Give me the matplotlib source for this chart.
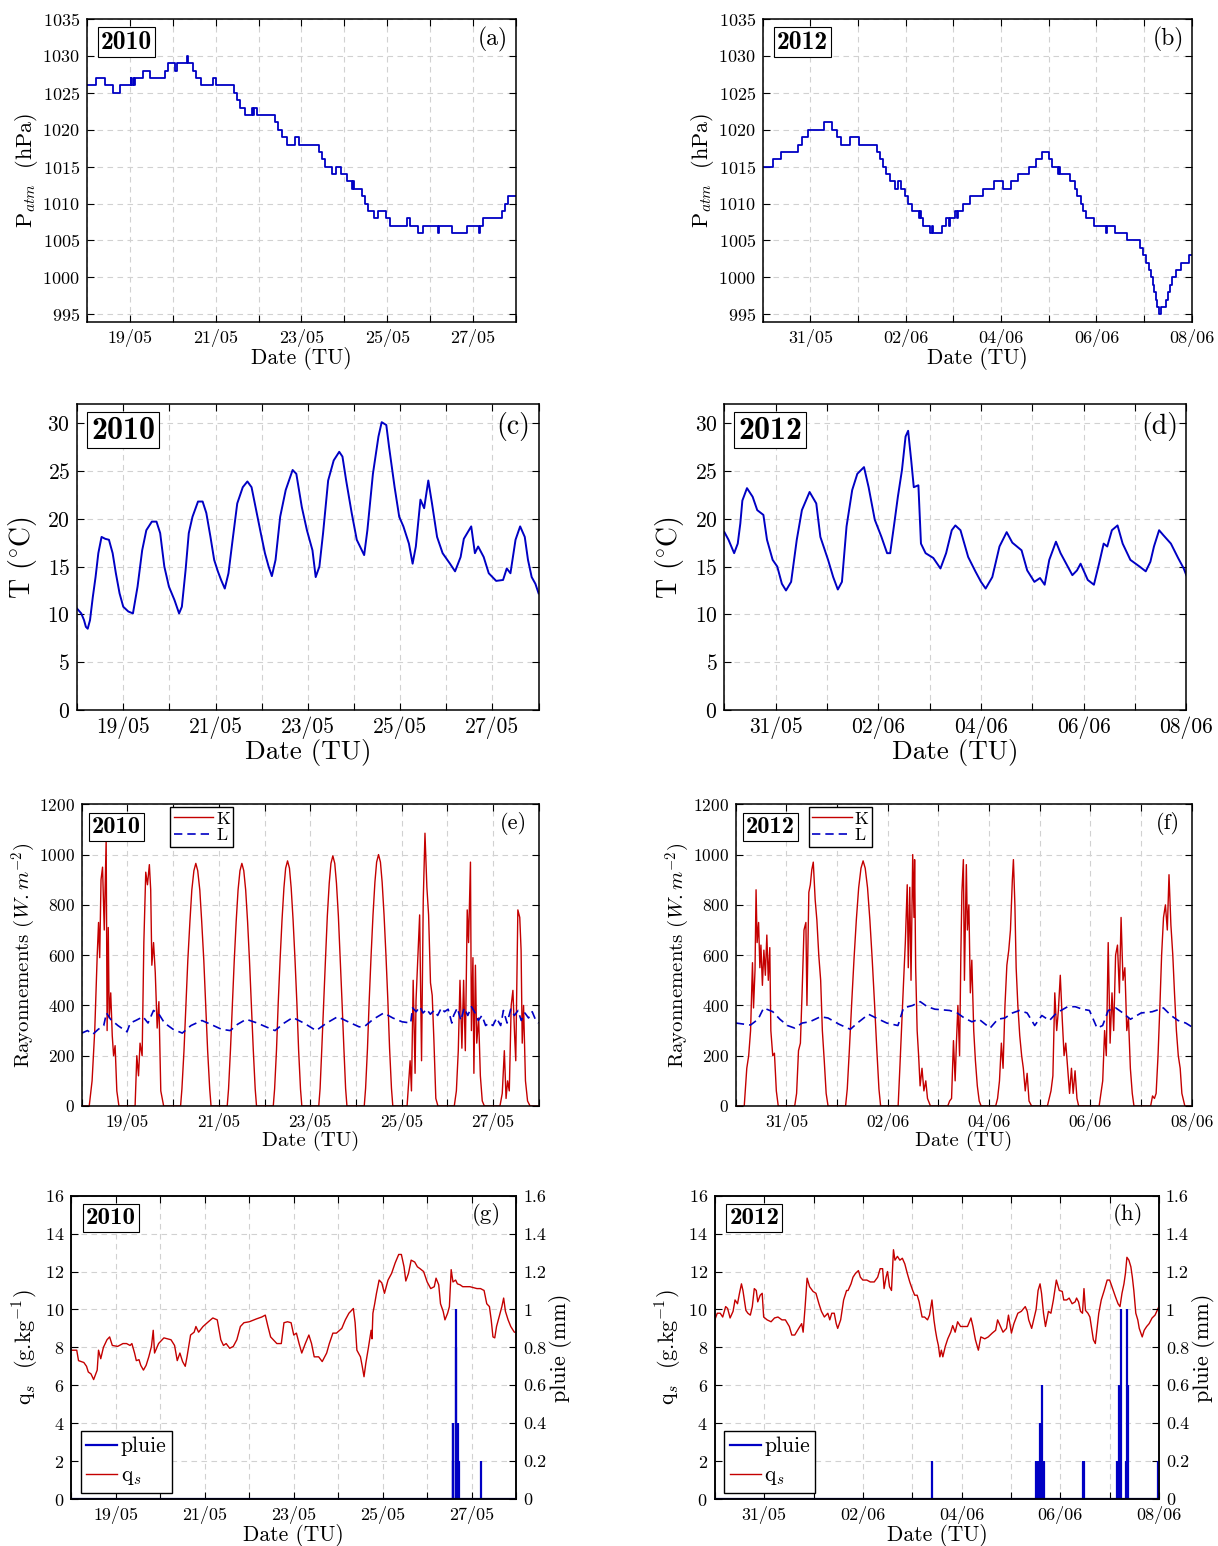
import matplotlib
matplotlib.use('Agg')
import matplotlib.pyplot as plt
import matplotlib.dates as mdates
from matplotlib.ticker import FuncFormatter, MultipleLocator
from matplotlib.lines import Line2D
from datetime import datetime
import numpy as np

plt.rcParams['font.family'] = ['cmr10', 'DejaVu Serif']
plt.rcParams['mathtext.fontset'] = 'cm'
plt.rcParams['axes.formatter.use_mathtext'] = True
plt.rcParams['axes.unicode_minus'] = False

START10 = datetime(2010, 5, 18)
START12 = datetime(2012, 5, 30)
NDAYS10 = 10
NDAYS12 = 9
LABEL_DAYS10 = [19, 21, 23, 25, 27]
LABEL_DAYS12 = [31, 2, 4, 6, 8]

# ---------------- (a) pressure 2010 (step changes, days, hPa) -------------
p10_t = [0, 0.22, 0.42, 0.6, 0.78, 1.02, 1.04, 1.08, 1.1, 1.13, 1.31, 1.47, 1.82, 1.89, 2.05, 2.11,
         2.33, 2.35, 2.47, 2.54, 2.66, 2.95, 3.0, 3.43, 3.49, 3.57, 3.68, 3.85, 3.88, 3.9, 3.97,
         4.38, 4.45, 4.55, 4.66, 4.84, 4.95, 5.42, 5.49, 5.55, 5.7, 5.8, 5.92, 6.05, 6.18, 6.2,
         6.22, 6.42, 6.48, 6.55, 6.69, 6.78, 6.96, 7.07, 7.46, 7.54, 7.71, 7.83, 8.19, 8.21, 8.5,
         8.85, 9.14, 9.16, 9.23, 9.68, 9.75, 9.81, 10.0]
p10_v = [1026, 1027, 1026, 1025, 1026, 1027, 1026, 1027, 1026, 1027, 1028, 1027, 1028, 1029, 1028, 1029,
         1030, 1029, 1028, 1027, 1026, 1027, 1026, 1025, 1024, 1023, 1022, 1023, 1022, 1023, 1022,
         1021, 1020, 1019, 1018, 1019, 1018, 1017, 1016, 1015, 1014, 1015, 1014, 1013, 1012, 1013,
         1012, 1011, 1010, 1009, 1008, 1009, 1008, 1007, 1008, 1007, 1006, 1007, 1006, 1007, 1006,
         1007, 1006, 1007, 1008, 1009, 1010, 1011, 1011]

# ---------------- (b) pressure 2012 ----------------
p12_t = [0, 0.21, 0.38, 0.75, 0.83, 0.94, 1.28, 1.46, 1.56, 1.64, 1.83, 2.03, 2.4, 2.47, 2.53, 2.59,
         2.68, 2.78, 2.84, 2.9, 2.99, 3.05, 3.13, 3.28, 3.3, 3.32, 3.36, 3.5, 3.55, 3.57, 3.77, 3.84,
         3.9, 3.92, 4.04, 4.08, 4.1, 4.2, 4.35, 4.62, 4.86, 5.05, 5.2, 5.35, 5.58, 5.74, 5.86, 6.0,
         6.07, 6.2, 6.22, 6.24, 6.44, 6.54, 6.6, 6.67, 6.72, 6.79, 6.95, 7.19, 7.23, 7.38, 7.65, 7.92,
         7.97, 8.04, 8.1, 8.14, 8.18, 8.21, 8.24, 8.27, 8.31, 8.35, 8.46, 8.5, 8.54, 8.59, 8.67, 8.78,
         8.95, 9.0]
p12_v = [1015, 1016, 1017, 1018, 1019, 1020, 1021, 1020, 1019, 1018, 1019, 1018, 1017, 1016, 1015, 1014,
         1013, 1012, 1013, 1012, 1011, 1010, 1009, 1008, 1009, 1008, 1007, 1006, 1007, 1006, 1007, 1008,
         1007, 1008, 1009, 1008, 1009, 1010, 1011, 1012, 1013, 1012, 1013, 1014, 1015, 1016, 1017, 1016,
         1015, 1014, 1015, 1014, 1013, 1012, 1011, 1010, 1009, 1008, 1007, 1006, 1007, 1006, 1005, 1004,
         1003, 1002, 1001, 1000, 999, 998, 997, 996, 995, 996, 997, 998, 999, 1000, 1001, 1002,
         1003, 1003]

# ---------------- (c) temperature 2010 (days, degC) ----------------
t10_t = [0, 0.09, 0.15, 0.19, 0.23, 0.28, 0.34, 0.4, 0.46, 0.53,
         0.61, 0.69, 0.77, 0.84, 0.92, 1.0, 1.11, 1.21, 1.31, 1.41,
         1.5, 1.62, 1.72, 1.8, 1.89, 1.99, 2.11, 2.21, 2.27, 2.35,
         2.42, 2.5, 2.62, 2.72, 2.8, 2.89, 2.97, 3.05, 3.12, 3.2,
         3.28, 3.37, 3.47, 3.59, 3.69, 3.78, 3.88, 3.98, 4.07, 4.15,
         4.22, 4.3, 4.4, 4.52, 4.67, 4.75, 4.87, 4.98, 5.1, 5.17,
         5.25, 5.33, 5.44, 5.56, 5.68, 5.75, 5.83, 5.95, 6.06, 6.18,
         6.22, 6.29, 6.41, 6.53, 6.6, 6.7, 6.76, 6.88, 6.98, 7.07,
         7.19, 7.27, 7.34, 7.44, 7.52, 7.61, 7.69, 7.8, 7.92, 8.08,
         8.19, 8.31, 8.38, 8.54, 8.62, 8.69, 8.81, 8.92, 9.08, 9.23,
         9.31, 9.39, 9.5, 9.6, 9.7, 9.77, 9.85, 9.93, 10.0]
t10_v = [10.6, 10.1, 9.4, 8.7, 8.5, 9.4, 11.8, 13.9, 16.4, 18.1,
         17.9, 17.8, 16.4, 14.3, 12.2, 10.8, 10.3, 10.1, 12.9, 16.7,
         18.8, 19.7, 19.7, 18.5, 15.0, 12.9, 11.5, 10.1, 10.8, 14.6,
         18.5, 20.2, 21.8, 21.8, 20.6, 18.1, 15.7, 14.5, 13.6, 12.7,
         14.3, 17.8, 21.6, 23.3, 23.9, 23.3, 20.9, 18.5, 16.4, 15.0,
         14.0, 15.7, 20.2, 23.0, 25.1, 24.7, 21.2, 18.8, 16.7, 13.9,
         15.0, 18.5, 24.0, 26.1, 27.0, 26.5, 24.0, 20.6, 17.8, 16.6,
         16.2, 18.8, 24.7, 28.6, 30.1, 29.8, 27.5, 23.3, 20.2, 19.2,
         17.4, 15.3, 17.1, 22.0, 21.1, 24.0, 21.6, 18.1, 16.4, 15.3,
         14.5, 16.0, 17.9, 19.2, 16.4, 17.1, 16.0, 14.3, 13.5, 13.6,
         14.8, 14.3, 17.8, 19.2, 18.1, 15.7, 13.9, 13.2, 12.2]

# ---------------- (d) temperature 2012 ----------------
t12_t = [0, 0.08, 0.19, 0.26, 0.31, 0.35, 0.44, 0.55, 0.64, 0.76,
         0.83, 0.94, 1.03, 1.12, 1.2, 1.3, 1.41, 1.51, 1.66, 1.79,
         1.87, 2.02, 2.12, 2.21, 2.29, 2.38, 2.49, 2.59, 2.72, 2.81,
         2.93, 3.06, 3.17, 3.23, 3.31, 3.38, 3.46, 3.53, 3.58, 3.64,
         3.69, 3.78, 3.83, 3.92, 4.07, 4.21, 4.32, 4.43, 4.5, 4.6,
         4.75, 4.89, 5.0, 5.09, 5.22, 5.36, 5.5, 5.61, 5.79, 5.9,
         6.04, 6.15, 6.24, 6.33, 6.46, 6.55, 6.69, 6.78, 6.87, 6.94,
         7.08, 7.2, 7.3, 7.39, 7.46, 7.55, 7.66, 7.76, 7.91, 8.09,
         8.21, 8.3, 8.37, 8.47, 8.55, 8.7, 8.84, 8.95, 9.0]
t12_v = [18.6, 17.8, 16.4, 17.4, 19.5, 21.9, 23.2, 22.3, 20.9, 20.4,
         17.8, 15.7, 15.0, 13.2, 12.5, 13.4, 17.8, 20.9, 22.8, 21.6,
         18.1, 15.7, 13.9, 12.6, 13.4, 19.2, 23.0, 24.7, 25.4, 23.3,
         19.9, 18.1, 16.4, 16.4, 19.5, 22.3, 25.1, 28.6, 29.2, 26.1,
         23.3, 23.5, 17.4, 16.4, 15.9, 14.8, 16.4, 18.8, 19.3, 18.8,
         16.0, 14.5, 13.4, 12.7, 13.9, 17.1, 18.6, 17.5, 16.7, 14.6,
         13.4, 13.8, 13.1, 15.7, 17.6, 16.4, 15.0, 14.1, 14.6, 15.3,
         13.6, 13.1, 15.3, 17.4, 17.1, 18.8, 19.3, 17.4, 15.7, 15.0,
         14.5, 15.5, 17.1, 18.8, 18.3, 17.4, 15.9, 14.8, 14.1]

# ---------------- (e) radiation 2010: K (hours, W/m2), L (days, W/m2) -------------
k10_h = [0,
         3.9, 5.4, 6.8, 8.1, 8.8, 9.4, 10.1, 10.9, 11.8, 12.8, 13.3, 13.9, 14.4, 15.2, 16.0, 16.7, 17.5, 18.4, 19.5,
         28.0, 28.9, 29.8, 30.6, 31.7, 32.6, 33.6, 34.5, 35.5, 36.2, 36.8, 37.7, 38.6, 39.6, 40.5, 41.5, 43.0,
         51.9, 52.6, 53.7, 54.7, 55.7, 56.8, 57.8, 58.9, 59.9, 60.9, 62.0, 63.0, 64.1, 65.1, 66.1, 67.2, 67.9,
         76.4, 77.1, 78.1, 79.1, 80.1, 81.1, 82.1, 83.1, 84.1, 85.1, 86.1, 87.1, 88.1, 89.1, 90.1, 91.1, 91.8,
         100.6, 101.3, 102.3, 103.2, 104.2, 105.2, 106.2, 107.1, 108.1, 109.1, 110.0, 111.0, 112.0, 113.0, 113.9, 114.9, 115.6,
         124.5, 125.2, 126.1, 127.1, 128.1, 129.0, 130.0, 130.9, 131.9, 132.9, 133.8, 134.8, 135.7, 136.7, 137.7, 138.6, 139.3,
         148.4, 149.1, 150.1, 151.0, 152.0, 153.0, 154.0, 154.9, 155.9, 156.9, 157.8, 158.8, 159.8, 160.8, 161.7, 162.7, 163.4,
         170.9, 172.5, 173.2, 174.1, 175.1, 175.6, 176.6, 177.5, 178.5, 179.4, 180.3, 181.3, 182.2, 183.2, 184.1, 185.0, 186.0, 187.1,
         195.7, 196.8, 197.8, 198.7, 199.7, 200.6, 201.5, 202.5, 203.2, 204.2, 204.7, 205.5, 206.0, 206.8, 207.5, 208.5, 209.4, 210.4, 211.5,
         219.7, 220.9, 222.0, 222.9, 223.7, 224.6, 225.6, 226.5, 227.4, 228.0, 229.1, 230.1, 230.8, 231.4, 232.1, 233.1, 234.2, 235.5,
         240.0]
k10_v = [0,
         0, 100, 300, 600, 730, 590, 900, 950, 700, 1060, 300, 710, 350, 450, 280, 200, 240, 60, 0,
         0, 200, 120, 250, 200, 650, 930, 880, 960, 860, 560, 650, 530, 310, 415, 60, 0,
         0, 68, 222, 405, 579, 733, 859, 936, 965, 936, 859, 733, 579, 405, 222, 68, 0,
         0, 68, 222, 405, 579, 733, 859, 936, 965, 936, 859, 733, 579, 405, 222, 68, 0,
         0, 68, 224, 410, 585, 741, 868, 946, 975, 946, 868, 741, 585, 410, 224, 68, 0,
         0, 70, 229, 418, 597, 756, 886, 965, 995, 965, 886, 756, 597, 418, 229, 70, 0,
         0, 70, 230, 420, 600, 760, 890, 970, 1000, 970, 890, 760, 600, 420, 230, 70, 0,
         0, 180, 60, 500, 130, 420, 600, 760, 180, 820, 1085, 870, 760, 490, 440, 260, 30, 0,
         0, 60, 220, 500, 230, 500, 220, 780, 650, 970, 300, 590, 130, 560, 250, 350, 120, 20, 0,
         0, 50, 220, 30, 100, 60, 400, 460, 280, 180, 780, 750, 620, 250, 400, 100, 20, 0,
         0]
l10_t = [0, 0.125, 0.24, 0.36, 0.48, 0.54, 0.63, 0.79, 0.99, 1.06,
         1.18, 1.34, 1.45, 1.57, 1.69, 1.81, 2.0, 2.2, 2.39, 2.63,
         2.82, 3.06, 3.25, 3.41, 3.6, 3.84, 4.03, 4.23, 4.43, 4.62,
         4.86, 5.13, 5.36, 5.6, 5.83, 6.07, 6.18, 6.38, 6.61, 6.81,
         7.01, 7.2, 7.24, 7.32, 7.4, 7.47, 7.55, 7.63, 7.71, 7.79,
         7.87, 7.94, 8.02, 8.1, 8.14, 8.22, 8.3, 8.37, 8.45, 8.53,
         8.61, 8.68, 8.76, 8.84, 8.92, 9.0, 9.08, 9.17, 9.23, 9.31,
         9.39, 9.47, 9.55, 9.62, 9.7, 9.78, 9.86, 9.94, 10.0]
l10_v = [290, 300, 285, 305, 320, 370, 345, 320, 295, 330,
         340, 355, 330, 380, 365, 330, 305, 290, 320, 340,
         325, 305, 300, 325, 345, 330, 315, 300, 330, 352,
         330, 300, 330, 355, 335, 315, 315, 345, 370, 350,
         335, 330, 390, 375, 395, 370, 385, 365, 380, 360,
         390, 375, 385, 330, 360, 390, 340, 390, 360, 395,
         370, 340, 360, 320, 330, 320, 350, 320, 380, 330,
         385, 360, 380, 340, 370, 350, 375, 340, 330]

# ---------------- (f) radiation 2012 ----------------
k12_h = [0,
         4.0, 5.2, 6.1, 7.0, 7.9, 8.4, 9.1, 9.6, 10.1, 10.8, 11.4, 11.9, 12.6, 13.3, 14.0, 14.7, 15.4, 16.1, 16.6, 17.5, 18.3, 19.2, 20.1,
         27.9, 28.8, 29.7, 30.6, 31.4, 32.3, 33.2, 33.7, 34.6, 35.3, 36.0, 36.7, 37.6, 38.4, 39.3, 40.2, 41.0, 41.9, 42.8, 43.7,
         52.0, 52.8, 53.8, 54.9, 56.0, 57.1, 58.2, 59.3, 60.3, 61.3, 62.4, 63.5, 64.6, 65.7, 66.8, 67.8, 68.6,
         76.9, 77.7, 78.6, 79.5, 80.3, 81.2, 81.7, 82.4, 83.0, 83.8, 84.4, 84.7, 85.2, 85.9, 86.6, 87.3, 88.2, 89.1, 90.0, 90.8, 92.2,
         100.4, 101.3, 102.2, 103.1, 103.9, 104.5, 105.2, 106.0, 106.6, 107.1, 107.8, 108.3, 109.2, 109.7, 110.4, 111.1, 111.8, 112.7, 113.5, 114.4, 115.3, 116.2,
         123.1, 124.0, 124.9, 125.8, 126.6, 127.5, 128.4, 129.3, 130.1, 131.0, 131.5, 132.2, 132.8, 133.6, 134.5, 135.4, 136.2, 137.1, 138.0, 138.9, 140.1,
         147.6, 149.3, 150.2, 151.1, 152.0, 152.8, 153.7, 154.6, 155.5, 156.3, 157.2, 158.1, 159.0, 159.8, 160.7, 161.6, 162.4,
         172.1, 173.8, 174.7, 175.5, 176.4, 177.3, 178.2, 179.0, 179.9, 180.8, 181.7, 182.5, 183.4, 184.3, 185.2, 186.0, 186.9, 187.8, 188.6,
         196.5, 197.4, 198.3, 199.1, 200.0, 200.9, 201.7, 202.6, 203.5, 204.4, 205.2, 206.1, 207.0, 207.8, 208.7, 209.6, 210.5, 211.3, 212.7,
         216.0]
k12_v = [0,
         0, 150, 200, 300, 570, 390, 540, 860, 650, 730, 550, 640, 480, 620, 520, 680, 500, 630, 300, 200, 210, 60, 0,
         0, 50, 220, 250, 450, 700, 730, 400, 850, 880, 940, 970, 820, 740, 600, 500, 300, 180, 50, 0,
         0, 68, 224, 410, 585, 741, 868, 946, 975, 946, 868, 741, 585, 410, 224, 68, 0,
         0, 150, 330, 500, 650, 880, 550, 870, 500, 1000, 750, 980, 550, 300, 200, 80, 150, 60, 100, 30, 0,
         0, 20, 30, 260, 100, 250, 400, 200, 600, 850, 980, 500, 960, 700, 800, 450, 580, 300, 180, 80, 20, 0,
         0, 30, 100, 250, 150, 400, 560, 620, 700, 900, 980, 800, 550, 400, 280, 200, 150, 60, 130, 20, 0,
         0, 60, 120, 450, 300, 380, 520, 350, 200, 250, 150, 50, 150, 50, 140, 30, 0,
         0, 100, 300, 200, 650, 250, 450, 300, 600, 640, 450, 750, 500, 550, 300, 350, 150, 50, 0,
         0, 40, 30, 50, 200, 400, 600, 750, 800, 700, 920, 720, 600, 450, 300, 200, 150, 50, 0,
         0]
l12_t = [0, 0.29, 0.44, 0.55, 0.73, 0.87, 1.02, 1.16, 1.31, 1.46,
         1.67, 1.82, 2.04, 2.26, 2.4, 2.62, 2.77, 2.98, 3.2, 3.31,
         3.49, 3.64, 3.78, 3.93, 4.22, 4.37, 4.51, 4.66, 4.8, 5.02,
         5.17, 5.31, 5.46, 5.6, 5.75, 5.9, 6.04, 6.19, 6.33, 6.55,
         6.7, 6.84, 6.98, 7.13, 7.24, 7.35, 7.5, 7.64, 7.79, 8.0,
         8.22, 8.44, 8.59, 8.73, 8.88, 9.0]
l12_v = [330, 322, 345, 390, 375, 345, 320, 310, 330, 335,
         355, 350, 325, 305, 330, 365, 350, 330, 320, 390,
         400, 415, 395, 385, 380, 370, 350, 335, 345, 310,
         345, 350, 370, 380, 370, 320, 360, 340, 370, 395,
         395, 385, 380, 310, 320, 380, 390, 370, 345, 370,
         375, 390, 360, 340, 330, 315]

# ---------------- (g) humidity and rain 2010 ----------------
q10_t = [0, 0.12, 0.16, 0.28, 0.34, 0.38, 0.44, 0.5, 0.54, 0.58,
         0.61, 0.66, 0.72, 0.8, 0.86, 0.92, 1.04, 1.16, 1.24, 1.32,
         1.36, 1.42, 1.46, 1.52, 1.56, 1.62, 1.68, 1.74, 1.8, 1.84,
         1.87, 1.96, 2.08, 2.24, 2.32, 2.38, 2.44, 2.5, 2.56, 2.6,
         2.68, 2.76, 2.8, 2.86, 2.96, 3.08, 3.18, 3.28, 3.36, 3.42,
         3.48, 3.56, 3.64, 3.72, 3.8, 3.88, 4.0, 4.16, 4.28, 4.36,
         4.42, 4.48, 4.54, 4.62, 4.72, 4.78, 4.86, 4.94, 5.0, 5.06,
         5.12, 5.18, 5.26, 5.34, 5.4, 5.46, 5.56, 5.64, 5.74, 5.8,
         5.88, 5.96, 6.08, 6.16, 6.24, 6.34, 6.38, 6.42, 6.5, 6.54,
         6.58, 6.62, 6.68, 6.74, 6.76, 6.78, 6.82, 6.86, 6.92, 6.98,
         7.04, 7.12, 7.2, 7.28, 7.36, 7.42, 7.48, 7.52, 7.58, 7.64,
         7.72, 7.78, 7.84, 7.92, 8.0, 8.08, 8.16, 8.2, 8.26, 8.3,
         8.36, 8.4, 8.46, 8.5, 8.54, 8.58, 8.64, 8.68, 8.74, 8.8,
         8.96, 9.12, 9.2, 9.28, 9.34, 9.4, 9.44, 9.48, 9.52, 9.56,
         9.6, 9.64, 9.68, 9.72, 9.76, 9.82, 9.88, 9.96, 10.0]
q10_v = [7.85, 7.85, 7.3, 7.2, 7.0, 6.7, 6.6, 6.3, 6.55, 6.8,
         7.85, 7.4, 8.0, 8.4, 8.55, 8.1, 8.05, 8.2, 8.2, 8.1,
         8.2, 7.7, 7.3, 7.35, 7.05, 6.8, 7.05, 7.5, 8.05, 8.9,
         7.7, 8.2, 8.5, 8.4, 8.1, 7.3, 7.7, 7.25, 7.0, 7.5,
         8.65, 8.8, 9.1, 8.8, 9.1, 9.35, 9.55, 9.45, 8.4, 8.1,
         8.2, 7.95, 8.05, 8.4, 9.1, 9.3, 9.35, 9.5, 9.6, 9.7,
         9.1, 8.55, 8.4, 8.2, 8.2, 9.3, 9.35, 9.3, 8.65, 8.75,
         8.2, 7.7, 8.2, 8.65, 8.2, 7.5, 7.5, 7.25, 7.7, 8.2,
         8.75, 8.75, 9.0, 9.45, 9.8, 10.05, 9.3, 7.85, 7.5, 7.0,
         6.45, 7.15, 8.0, 8.9, 8.45, 9.8, 10.3, 10.85, 11.55, 11.4,
         10.85, 11.55, 11.9, 12.45, 12.9, 12.9, 12.25, 11.5, 11.9, 12.6,
         12.5, 12.25, 12.15, 12.0, 11.45, 11.1, 11.2, 11.65, 11.3, 10.3,
         9.9, 9.45, 9.8, 10.15, 12.1, 11.45, 11.55, 11.35, 11.3, 11.2,
         11.2, 11.1, 11.1, 11.0, 10.3, 10.15, 9.45, 8.55, 8.5, 9.1,
         9.45, 9.8, 10.15, 10.6, 9.9, 9.45, 9.1, 8.8, 8.8]
r10_t = [8.57, 8.58, 8.59, 8.64, 8.65, 8.70, 8.71, 9.2]
r10_v = [0.4, 0.2, 0.4, 1.0, 0.8, 0.4, 0.2, 0.2]

# ---------------- (h) humidity and rain 2012 ----------------
q12_t = [0, 0.05, 0.11, 0.16, 0.22, 0.26, 0.31, 0.37, 0.41, 0.46,
         0.5, 0.54, 0.57, 0.63, 0.67, 0.72, 0.76, 0.8, 0.84, 0.87,
         0.92, 0.96, 0.99, 1.06, 1.14, 1.21, 1.28, 1.36, 1.43, 1.51,
         1.56, 1.62, 1.7, 1.76, 1.79, 1.83, 1.87, 1.92, 1.99, 2.05,
         2.11, 2.16, 2.22, 2.29, 2.33, 2.37, 2.42, 2.46, 2.49, 2.55,
         2.61, 2.67, 2.7, 2.76, 2.8, 2.85, 2.91, 2.95, 3.0, 3.08,
         3.15, 3.23, 3.3, 3.35, 3.4, 3.43, 3.47, 3.5, 3.54, 3.58,
         3.62, 3.65, 3.7, 3.75, 3.8, 3.85, 3.9, 3.95, 4.01, 4.05,
         4.1, 4.14, 4.2, 4.25, 4.31, 4.35, 4.4, 4.44, 4.47, 4.5,
         4.53, 4.56, 4.59, 4.62, 4.67, 4.72, 4.78, 4.82, 4.87, 4.92,
         4.98, 5.04, 5.12, 5.19, 5.23, 5.28, 5.34, 5.39, 5.47, 5.54,
         5.62, 5.69, 5.73, 5.79, 5.84, 5.91, 5.95, 6.01, 6.06, 6.14,
         6.21, 6.29, 6.33, 6.36, 6.42, 6.46, 6.51, 6.55, 6.59, 6.62,
         6.66, 6.7, 6.76, 6.81, 6.86, 6.92, 6.98, 7.04, 7.07, 7.13,
         7.18, 7.24, 7.3, 7.33, 7.37, 7.41, 7.45, 7.48, 7.51, 7.56,
         7.6, 7.63, 7.67, 7.71, 7.74, 7.78, 7.83, 7.89, 7.95, 8.0,
         8.06, 8.12, 8.17, 8.21, 8.25, 8.29, 8.32, 8.35, 8.39, 8.43,
         8.46, 8.49, 8.53, 8.57, 8.6, 8.66, 8.7, 8.75, 8.8, 8.86,
         8.92, 8.98, 9.0]
q12_v = [9.45, 9.8, 9.8, 9.6, 10.15, 10.05, 9.55, 9.9, 10.5, 10.3,
         10.85, 11.35, 11.0, 9.95, 9.8, 9.7, 10.15, 11.1, 11.0, 10.4,
         10.75, 10.85, 9.6, 9.45, 9.35, 9.55, 9.6, 9.45, 9.45, 9.1,
         8.65, 8.65, 9.0, 9.25, 8.8, 10.15, 11.65, 11.2, 10.95, 10.85,
         10.3, 9.9, 9.6, 9.8, 9.45, 9.8, 9.8, 9.25, 9.0, 9.45,
         10.5, 11.0, 11.0, 11.35, 11.7, 11.9, 12.05, 11.7, 11.55, 11.55,
         11.45, 11.45, 11.7, 12.15, 12.15, 11.1, 11.7, 12.0, 11.2, 11.0,
         13.15, 12.6, 12.8, 12.6, 12.7, 12.4, 11.9, 11.45, 11.0, 10.75,
         10.75, 10.4, 9.6, 9.6, 9.45, 9.7, 10.5, 9.45, 8.9, 8.45,
         8.1, 7.5, 7.85, 7.5, 8.05, 8.45, 8.8, 9.15, 8.8, 9.35,
         9.1, 9.1, 9.1, 9.55, 9.1, 8.4, 7.85, 8.55, 8.45, 8.55,
         8.75, 8.9, 9.45, 9.1, 8.8, 9.0, 9.7, 8.75, 9.25, 9.8,
         9.9, 10.15, 9.9, 9.45, 9.0, 9.45, 10.0, 11.0, 11.35, 10.85,
         9.8, 9.1, 9.9, 9.8, 10.5, 11.55, 11.0, 10.95, 10.5, 10.5,
         10.6, 10.3, 10.4, 10.6, 10.4, 9.9, 9.8, 11.1, 9.95, 9.8,
         9.6, 9.1, 8.4, 8.2, 8.9, 9.8, 10.5, 11.0, 11.55, 11.55,
         11.1, 10.65, 10.3, 10.15, 10.85, 11.35, 11.9, 12.75, 12.6, 12.25,
         11.7, 11.0, 9.8, 9.45, 9.0, 8.55, 8.9, 9.1, 9.25, 9.55,
         9.7, 10.05, 10.15]
r12_t = [4.4, 6.5, 6.53, 6.55, 6.57, 6.59, 6.62, 6.64, 6.66, 7.47, 7.49,
         8.14, 8.17, 8.19, 8.22, 8.33, 8.36, 8.38, 8.98]
r12_v = [0.2, 0.2, 0.2, 0.2, 0.2, 0.4, 0.6, 0.2, 0.2, 0.2, 0.2,
         0.2, 0.2, 0.6, 1.0, 0.2, 1.0, 0.6, 0.2]

# ---------------- styling ----------------
BLUE = '#0000c4'
RED = '#c40000'
GRID = dict(color='0.82', linestyle=(0, (5, 4)), linewidth=0.8)

fig = plt.figure(figsize=(12.18, 15.46), dpi=100)
W, H = 1218.0, 1546.0


def add_ax(l, r, t, b):
    return fig.add_axes([l / W, 1 - b / H, (r - l) / W, (b - t) / H])


def dates(start, days):
    return mdates.date2num(start) + np.asarray(days, dtype=float)


def style(ax, start, ndays, labdays, fs_tick, right_ticks=True):
    x0 = mdates.date2num(start)
    ax.set_xlim(x0, x0 + ndays)
    ax.xaxis.set_major_locator(mdates.DayLocator(bymonthday=labdays))
    ax.xaxis.set_minor_locator(mdates.DayLocator())
    ax.xaxis.set_major_formatter(mdates.DateFormatter('%d/%m'))
    ax.tick_params(which='both', direction='in', top=True, right=right_ticks,
                   length=5, width=0.8, labelsize=fs_tick, pad=5)
    ax.grid(True, which='both', axis='x', **GRID)
    ax.grid(True, which='major', axis='y', **GRID)
    ax.set_axisbelow(True)
    for s in ax.spines.values():
        s.set_linewidth(1.1)


def year_box(ax, txt, x, y, fs):
    ax.text(x, y, txt, transform=ax.transAxes, ha='left', va='top',
            family=['cmb10', 'DejaVu Serif'], fontsize=fs, zorder=10,
            bbox=dict(boxstyle='square,pad=0.12', fc='white', ec='black', lw=0.8))


def letter(ax, txt, x, y, fs):
    ax.text(x, y, txt, transform=ax.transAxes, ha='right', va='top', fontsize=fs, zorder=10)


# ---- (a) / (b)
for (l, r), start, nd, lab, tt, vv, yr, let in [
        ((86.8, 516.1), START10, NDAYS10, LABEL_DAYS10, p10_t, p10_v, '2010', '(a)'),
        ((762.7, 1191.8), START12, NDAYS12, LABEL_DAYS12, p12_t, p12_v, '2012', '(b)')]:
    ax = add_ax(l, r, 19, 321.7)
    ax.plot(dates(start, tt), vv, drawstyle='steps-post', color=BLUE, lw=1.3)
    style(ax, start, nd, lab, 13)
    ax.set_ylim(994, 1035)
    ax.yaxis.set_major_locator(MultipleLocator(5))
    ax.set_ylabel(r'P$_{atm}$  (hPa)', fontsize=16, labelpad=2)
    ax.set_xlabel('Date (TU)', fontsize=15.5, labelpad=0)
    year_box(ax, yr, 0.033, 0.962, 18.5)
    letter(ax, let, 0.982, 0.975, 17)

# ---- (c) / (d)
for (l, r), start, nd, lab, tt, vv, yr, let in [
        ((77.1, 538.6), START10, NDAYS10, LABEL_DAYS10, t10_t, t10_v, '2010', '(c)'),
        ((724.4, 1186.3), START12, NDAYS12, LABEL_DAYS12, t12_t, t12_v, '2012', '(d)')]:
    ax = add_ax(l, r, 404, 710)
    ax.plot(dates(start, tt), vv, color=BLUE, lw=1.4)
    style(ax, start, nd, lab, 15.5)
    ax.set_ylim(0, 32)
    ax.yaxis.set_major_locator(MultipleLocator(5))
    ax.set_ylabel(r'T ($^{\circ}$C)', fontsize=20, labelpad=6)
    ax.set_xlabel('Date (TU)', fontsize=19.5, labelpad=0)
    year_box(ax, yr, 0.03, 0.962, 23)
    letter(ax, let, 0.982, 0.975, 20)

# ---- (e) / (f)
for (l, r), start, nd, lab, kh, kv, lt, lv, yr, let, legx in [
        ((81.8, 538.6), START10, NDAYS10, LABEL_DAYS10, k10_h, k10_v, l10_t, l10_v, '2010', '(e)', 0.193),
        ((735.8, 1191.8), START12, NDAYS12, LABEL_DAYS12, k12_h, k12_v, l12_t, l12_v, '2012', '(f)', 0.16)]:
    ax = add_ax(l, r, 804.3, 1106)
    hk, = ax.plot(dates(start, np.asarray(kh) / 24.0), kv, color=RED, lw=1.0, label='K')
    hl, = ax.plot(dates(start, lt), lv, color=BLUE, lw=1.2, ls=(0, (5, 3)), label='L')
    style(ax, start, nd, lab, 12.5)
    ax.set_ylim(0, 1200)
    ax.yaxis.set_major_locator(MultipleLocator(200))
    ax.set_ylabel(r'Rayonnements $(W{.}m^{-2})$', fontsize=15, labelpad=1)
    ax.set_xlabel('Date (TU)', fontsize=15, labelpad=0)
    year_box(ax, yr, 0.022, 0.962, 17.5)
    letter(ax, let, 0.975, 0.975, 16)
    lg = ax.legend(handles=[hk, hl], loc='upper left', bbox_to_anchor=(legx, 0.99),
                   fontsize=13, frameon=True, fancybox=False, edgecolor='black',
                   framealpha=1, borderpad=0.2, labelspacing=0.05, handlelength=2.2,
                   handletextpad=0.15, borderaxespad=0)
    lg.get_frame().set_linewidth(1.0)

# ---- (g) / (h)
for (l, r), start, nd, lab, qt, qv, rt, rv, yr, let in [
        ((71.4, 516.1), START10, NDAYS10, LABEL_DAYS10, q10_t, q10_v, r10_t, r10_v, '2010', '(g)'),
        ((714.8, 1159.0), START12, NDAYS12, LABEL_DAYS12, q12_t, q12_v, r12_t, r12_v, '2012', '(h)')]:
    ax = add_ax(l, r, 1195.7, 1499)
    hq, = ax.plot(dates(start, qt), qv, color=RED, lw=1.0, label=r'q$_s$')
    style(ax, start, nd, lab, 13, right_ticks=False)
    ax.set_ylim(0, 16)
    ax.yaxis.set_major_locator(MultipleLocator(2))
    ax.set_ylabel(r'q$_s$  (g.kg$^{-1}$)', fontsize=16, labelpad=3)
    ax.set_xlabel('Date (TU)', fontsize=15.5, labelpad=0)
    ax2 = ax.twinx()
    ax2.set_xlim(ax.get_xlim())
    ax2.vlines(dates(start, rt), 0, rv, color=BLUE, lw=1.6)
    ax2.axhline(0, color='#00005a', lw=1.6)
    ax2.set_ylim(0, 1.6)
    ax2.yaxis.set_major_locator(MultipleLocator(0.2))
    ax2.yaxis.set_major_formatter(FuncFormatter(lambda v, p: '%g' % round(v, 2)))
    ax2.tick_params(direction='in', length=5, width=0.8, labelsize=13, pad=5)
    ax2.set_ylabel('pluie (mm)', fontsize=16, labelpad=2)
    for s in ax2.spines.values():
        s.set_linewidth(1.1)
    year_box(ax2, yr, 0.033, 0.962, 18)
    letter(ax2, let, 0.965, 0.975, 16.5)
    hp = Line2D([], [], color=BLUE, lw=1.6, label='pluie')
    lg = ax2.legend(handles=[hp, hq], loc='lower left', bbox_to_anchor=(0.021, 0.021),
                    fontsize=15.5, frameon=True, fancybox=False, edgecolor='black',
                    framealpha=1, borderpad=0.25, labelspacing=0.45, handlelength=1.45,
                    handletextpad=0.15, borderaxespad=0)
    lg.get_frame().set_linewidth(1.0)

fig.savefig('out.png', dpi=100)
